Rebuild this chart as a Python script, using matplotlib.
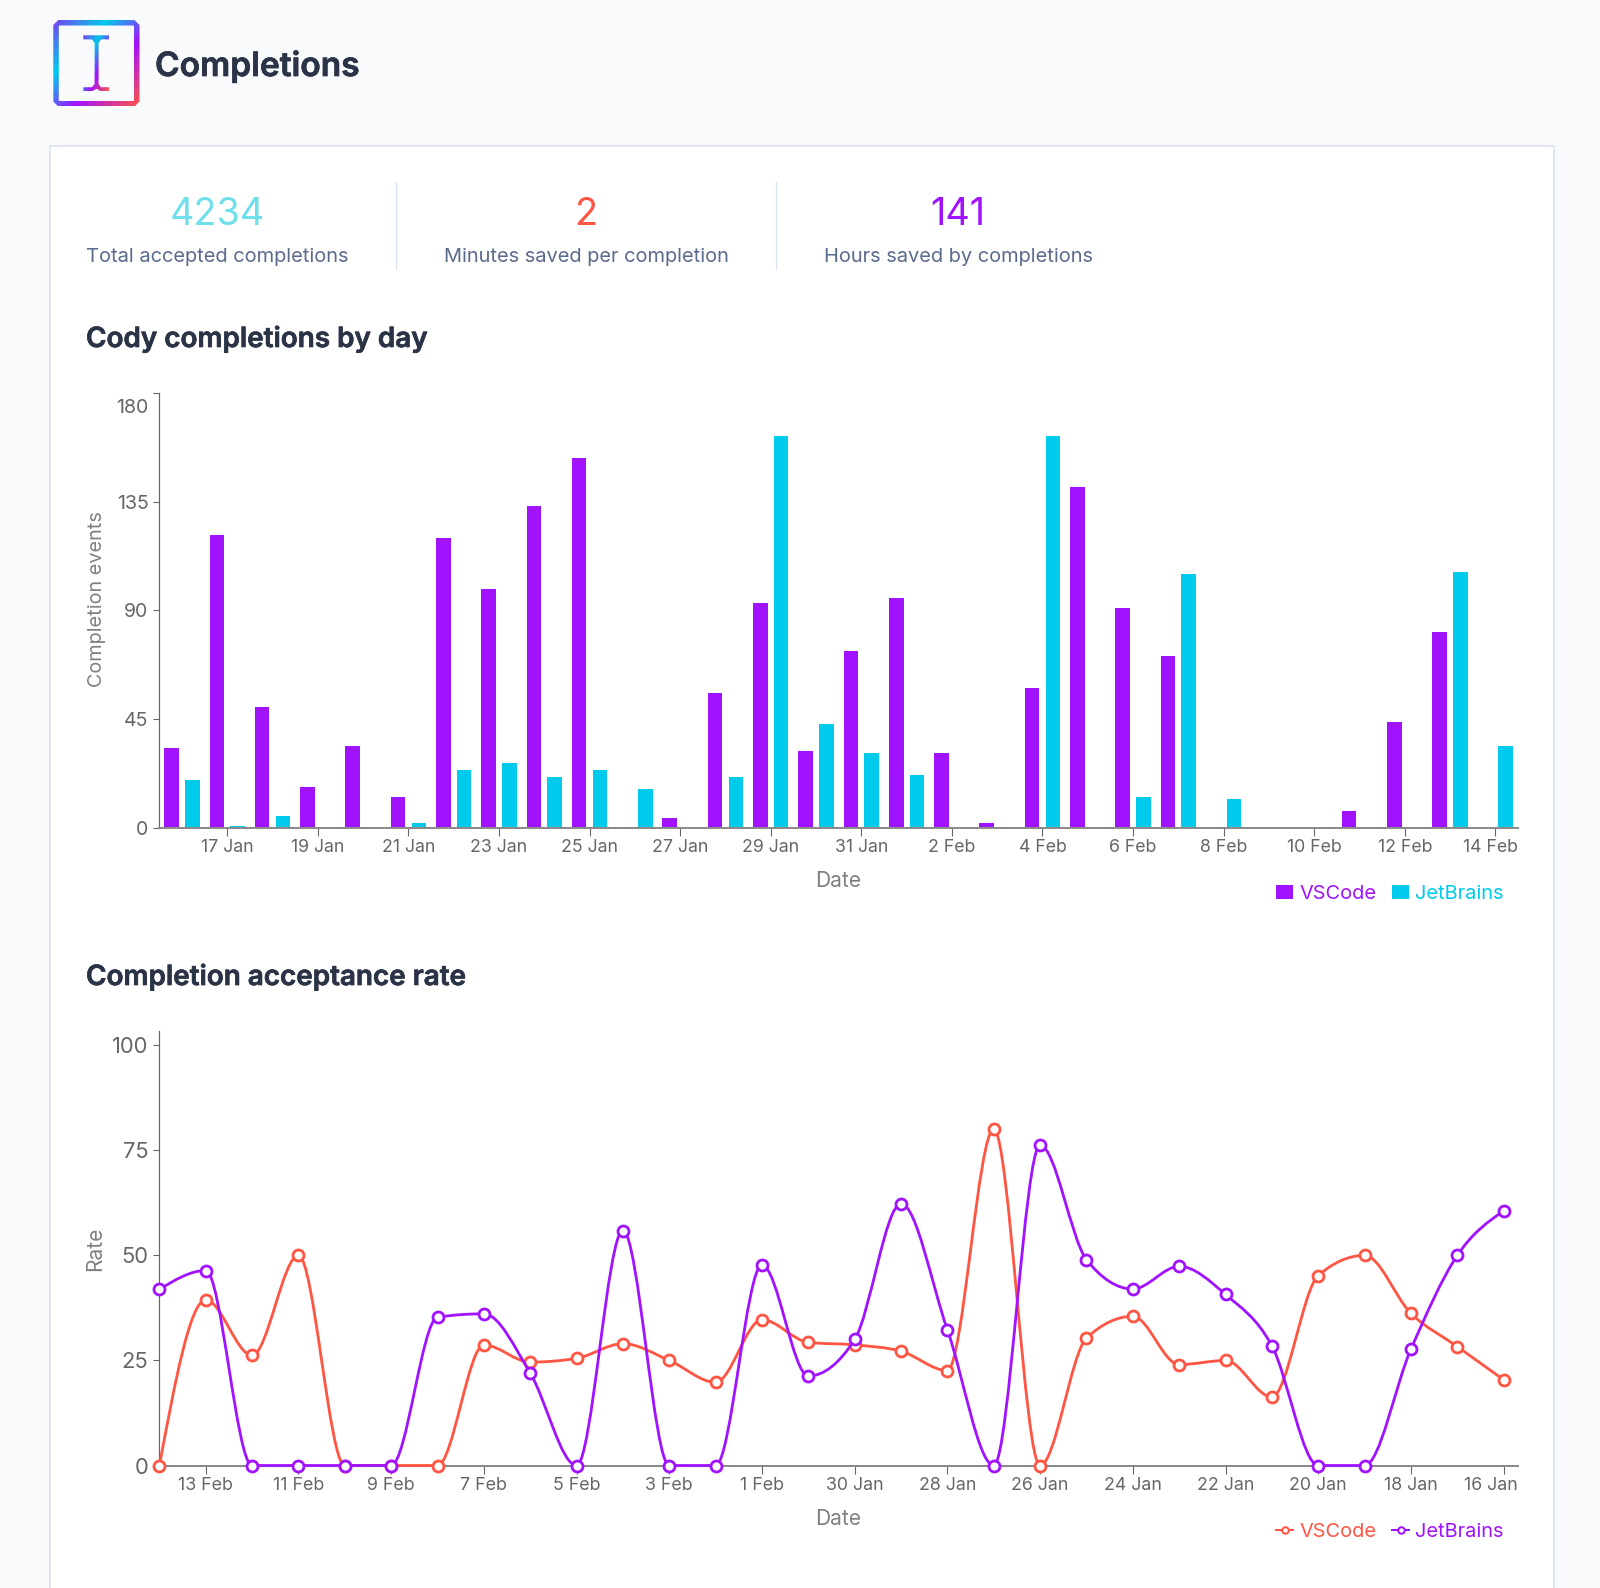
import numpy as np
import matplotlib
matplotlib.use("Agg")
import matplotlib.pyplot as plt
import matplotlib.patheffects as pe
from matplotlib.path import Path
from matplotlib.patches import PathPatch, Rectangle
from matplotlib.colors import LinearSegmentedColormap
from matplotlib.transforms import Affine2D

plt.rcParams['font.family'] = ['Inter', 'DejaVu Sans']

# ---- data ----
days = ['16 Jan', '17 Jan', '18 Jan', '19 Jan', '20 Jan', '21 Jan', '22 Jan', '23 Jan', '24 Jan', '25 Jan',
        '26 Jan', '27 Jan', '28 Jan', '29 Jan', '30 Jan', '31 Jan', '1 Feb', '2 Feb', '3 Feb', '4 Feb',
        '5 Feb', '6 Feb', '7 Feb', '8 Feb', '9 Feb', '10 Feb', '11 Feb', '12 Feb', '13 Feb', '14 Feb']
vscode_events = [33, 121, 50, 17, 34, 13, 120, 99, 133, 153, 0, 4, 56, 93, 32, 73, 95, 31, 2, 58,
                 141, 91, 71, 0, 0, 0, 7, 44, 81, 0]
jetbrains_events = [20, 1, 5, 0, 0, 2, 24, 27, 21, 24, 16, 0, 21, 162, 43, 31, 22, 0, 0, 162,
                    0, 13, 105, 12, 0, 0, 0, 0, 106, 34]
rate_days = days[::-1]
vscode_rate = [0, 39.4, 26.2, 50, 0, 0, 0, 28.7, 24.6, 25.5, 29, 25, 19.8, 34.7, 29.3,
               28.7, 27.2, 22.6, 80, 0, 30.3, 35.5, 24, 25, 16.3, 45.2, 50, 36.2, 28.3, 20.4]
jetbrains_rate = [41.9, 46.4, 0, 0, 0, 0, 35.3, 36.1, 22, 0, 55.9, 0, 0, 47.7, 21.3,
                  30, 62.3, 32.3, 0, 76.2, 49, 42, 47.4, 40.7, 28.5, 0, 0, 27.7, 50, 60.6]
events_ticks = [0, 45, 90, 135, 180]
rate_ticks = [0, 25, 50, 75, 100]
stats = [('4234', 'Total accepted completions', '#6fdfec'),
         ('2', 'Minutes saved per completion', '#ff5543'),
         ('141', 'Hours saved by completions', '#a112ff')]

PURPLE, CYAN, RED = '#a112ff', '#00cbec', '#ff5543'
W, H = 1600, 1588
px = 0.72  # points per pixel at dpi 100
fig = plt.figure(figsize=(W / 100, H / 100), dpi=100, facecolor='#f9fafc')

# ---- page furniture in pixel coordinates ----
bg = fig.add_axes([0, 0, 1, 1], zorder=-1)
bg.set_xlim(0, W); bg.set_ylim(H, 0); bg.axis('off')
bg.add_patch(Rectangle((49.8, 146.3), 1504.2, 1500, fc='white', ec='#dbe2f0', lw=1.6 * px))
for x in (396, 776):
    bg.plot([x, x], [182, 269], color='#dbe2f0', lw=1.3 * px)

def chamfer(x0, y0, x1, y1, c):
    return [(x0 + c, y0), (x1 - c, y0), (x1, y0 + c), (x1, y1 - c), (x1 - c, y1), (x0 + c, y1), (x0, y1 - c), (x0, y0 + c), (x0 + c, y0)]

def polys_path(polys):
    verts, codes = [], []
    for poly in polys:
        verts += poly
        codes += [Path.MOVETO] + [Path.LINETO] * (len(poly) - 1)
    return Path(verts, codes)

outer = chamfer(53.3, 20, 139.5, 106.5, 5)
inner = chamfer(58.8, 25.5, 134, 101, 0.5)[::-1]
beam = [(83.3, 35.3), (109.3, 35.3), (109.3, 39.4), (101, 39.4), (98.6, 43), (98.6, 84), (101, 87.2), (109.3, 87.2),
        (109.3, 91.3), (101, 91.3), (96.5, 88.8), (92, 91.3), (83.3, 91.3), (83.3, 87.2), (92, 87.2), (94.6, 84),
        (94.6, 43), (92, 39.4), (83.3, 39.4), (83.3, 35.3)]
gx, gy = np.meshgrid(np.linspace(0, 1, 120), np.linspace(0, 1, 120))
cmap = LinearSegmentedColormap.from_list('icon', [(0, '#7a3ef0'), (0.32, '#00cbec'), (0.62, PURPLE), (1, RED)])
for polys, ext in (([outer, inner], (53.3, 139.5, 106.5, 20)), ([beam], (83.3, 109.3, 91.3, 35.3))):
    clip = PathPatch(polys_path(polys), fc='none', ec='none', transform=bg.transData)
    bg.add_patch(clip)
    img = bg.imshow((gx + gy) / 2, extent=ext, cmap=cmap, vmin=0, vmax=1, aspect='auto', interpolation='bilinear')
    img.set_clip_path(clip)
bg.set_xlim(0, W); bg.set_ylim(H, 0)

dark = '#2b3447'
heavy = [pe.withStroke(linewidth=0.5, foreground=dark)]
bg.text(155, 76, 'Completions', fontsize=33.5 * px, fontweight=600, color=dark, va='baseline', path_effects=heavy)
for (val, lab, col), cx in zip(stats, (217, 586, 958)):
    bg.text(cx, 225, val, fontsize=37.8 * px, color=col, ha='center', va='baseline')
    bg.text(cx, 261.5, lab, fontsize=20.05 * px, color='#5b6b8c', ha='center', va='baseline')
for y, title in ((347, 'Cody completions by day'), (985, 'Completion acceptance rate')):
    bg.text(86, y, title, fontsize=27.85 * px, fontweight=600, color=dark, va='baseline', path_effects=heavy)

AX_L, AX_R = 159.4, 1518
GREY = '#808080'

def make_axes(top, bottom):
    ax = fig.add_axes([AX_L / W, 1 - bottom / H, (AX_R - AX_L) / W, (bottom - top) / H])
    ax.patch.set_alpha(0)
    for s in ('top', 'right'):
        ax.spines[s].set_visible(False)
    ax.spines['left'].set_color('#666666'); ax.spines['left'].set_linewidth(1.2 * px)
    ax.spines['bottom'].set_color('#8a8a8a'); ax.spines['bottom'].set_linewidth(2 * px)
    ax.tick_params(axis='x', length=8 * px, width=1.1 * px, color='#666666', labelcolor='#666666')
    ax.tick_params(axis='y', length=6 * px, width=1.1 * px, color='#666666', pad=5 * px, labelcolor='#666666')
    return ax

def shift(label, dx_px, dy_px):
    label.set_transform(label.get_transform() + Affine2D().translate(dx_px, dy_px))

# ---- bars ----
ax1 = make_axes(392.7, 828)
idx = np.arange(len(days))
off, bw = 0.23, 0.322
ax1.bar(idx - off, vscode_events, bw, color=PURPLE, label='VSCode')
ax1.bar(idx + off, jetbrains_events, bw, color=CYAN, label='JetBrains')
ax1.set_xlim(-0.5, 29.5); ax1.set_ylim(0, 180)
ax1.set_yticks(events_ticks)
ax1.set_xticks(idx[1::2]); ax1.set_xticklabels(days[1::2])
ax1.tick_params(axis='x', labelsize=17.7 * px, pad=3 * px)
ax1.tick_params(axis='y', labelsize=19.5 * px)
for t in ax1.get_yticklabels():
    if t.get_text() == '180':
        shift(t, 0, -13)
last = ax1.get_xticklabels()[-1]
last.set_ha('right'); shift(last, 22.6, 0)

# ---- lines: monotone cubic through the values ----
def monotone_path(x, y):
    x, y = np.asarray(x, float), np.asarray(y, float)
    h = np.diff(x); s = np.diff(y) / h
    t = np.zeros_like(y)
    for i in range(1, len(y) - 1):
        p = (s[i - 1] * h[i] + s[i] * h[i - 1]) / (h[i - 1] + h[i])
        t[i] = (np.sign(s[i - 1]) + np.sign(s[i])) * min(abs(s[i - 1]), abs(s[i]), 0.5 * abs(p))
    t[0] = (3 * s[0] - t[1]) / 2
    t[-1] = (3 * s[-1] - t[-2]) / 2
    v, c = [(x[0], y[0])], [Path.MOVETO]
    for i in range(len(h)):
        d = h[i] / 3
        v += [(x[i] + d, y[i] + d * t[i]), (x[i + 1] - d, y[i + 1] - d * t[i + 1]), (x[i + 1], y[i + 1])]
        c += [Path.CURVE4] * 3
    return Path(v, c)

ax2 = make_axes(1031, 1465.5)
rx = np.arange(len(rate_days))
for vals, col, name, z in ((vscode_rate, RED, 'VSCode', 3), (jetbrains_rate, PURPLE, 'JetBrains', 4)):
    ax2.add_patch(PathPatch(monotone_path(rx, vals), fc='none', ec=col, lw=2.8 * px, zorder=z, clip_on=False))
    ax2.plot(rx, vals, ls='none', marker='o', ms=11 * px, mfc='white', mec=col, mew=2.8 * px, zorder=z, clip_on=False)
ax2.set_xlim(0, 29.31); ax2.set_ylim(0, 103.4)
ax2.set_yticks(rate_ticks)
ax2.set_xticks(rx[1::2]); ax2.set_xticklabels(rate_days[1::2])
ax2.tick_params(axis='x', labelsize=17.8 * px, pad=3.5 * px)
ax2.tick_params(axis='y', labelsize=22 * px)
last = ax2.get_xticklabels()[-1]
last.set_ha('right'); shift(last, 14.4, 0)

# ---- axis titles ----
for y in (881, 1519):
    bg.text(838.5, y, 'Date', fontsize=21 * px, color=GREY, ha='center', va='center')
bg.text(96.5, 599, 'Completion events', fontsize=19.9 * px, color=GREY, rotation=90, ha='center', va='center')
bg.text(95.5, 1249, 'Rate', fontsize=21 * px, color=GREY, rotation=90, ha='center', va='center')

# ---- legends ----
def legend(ax, handles, labels, cols, y_px, hlen):
    leg = ax.legend(handles, labels, loc='center right', bbox_to_anchor=(1503.6 / W, 1 - y_px / H), bbox_transform=fig.transFigure,
                    frameon=False, ncols=2, fontsize=20 * px, borderpad=0, borderaxespad=0, handlelength=hlen,
                    handleheight=0.7, handletextpad=0.3, columnspacing=0.8)
    for t, c in zip(leg.get_texts(), cols):
        t.set_color(c)

h1, l1 = ax1.get_legend_handles_labels()
legend(ax1, h1, l1, [PURPLE, CYAN], 894, 0.85)
h2 = [plt.Line2D([], [], color=c, lw=2 * px, marker='o', ms=6.5 * px, mfc='white', mec=c, mew=2 * px) for c in (RED, PURPLE)]
legend(ax2, h2, ['VSCode', 'JetBrains'], [RED, PURPLE], 1532, 0.85)

fig.savefig('out.png', dpi=100, facecolor=fig.get_facecolor())
